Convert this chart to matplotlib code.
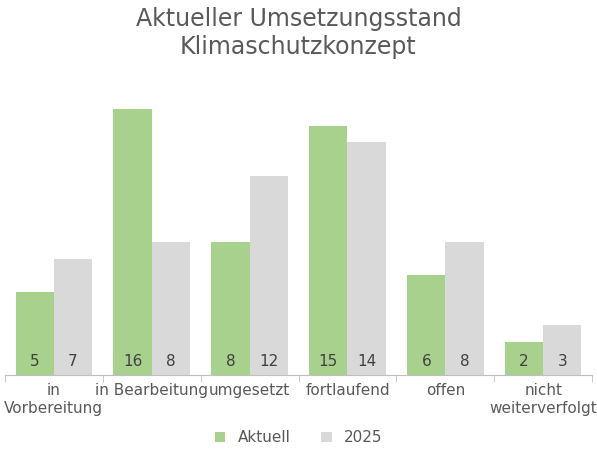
import matplotlib
matplotlib.use('Agg')
import matplotlib.pyplot as plt
import numpy as np

categories = ['in\nVorbereitung', 'in Bearbeitung', 'umgesetzt', 'fortlaufend', 'offen', 'nicht\nweiterverfolgt']
aktuell = [5, 16, 8, 15, 6, 2]
plan_2025 = [7, 8, 12, 14, 8, 3]

GREEN = '#A9D18E'
GREY = '#D9D9D9'
TEXT = '#595959'

fig = plt.figure(figsize=(5.97, 4.59), dpi=100)
ax = fig.add_axes([0.008, 0.183, 0.984, 0.597])

x = np.arange(len(categories))
bw = 0.39
ax.bar(x - bw / 2, aktuell, bw, color=GREEN, label='Aktuell')
ax.bar(x + bw / 2, plan_2025, bw, color=GREY, label='2025')

for xi, a, b in zip(x, aktuell, plan_2025):
    ax.text(xi - bw / 2, 0.8, str(a), ha='center', va='center', fontsize=11, color='#404040')
    ax.text(xi + bw / 2, 0.8, str(b), ha='center', va='center', fontsize=11, color='#404040')

ax.set_xlim(-0.5, len(categories) - 0.5)
ax.set_ylim(0, 16.5)
ax.set_yticks([])
ax.set_xticks(x)
ax.set_xticklabels(categories, fontsize=11, color=TEXT, va='top')
ax.tick_params(axis='x', length=0, pad=6)
ax.set_xticks(np.arange(len(categories) + 1) - 0.5, minor=True)
ax.tick_params(axis='x', which='minor', length=5, color='#BFBFBF')
for s in ['top', 'right', 'left']:
    ax.spines[s].set_visible(False)
ax.spines['bottom'].set_color('#BFBFBF')

fig.suptitle('Aktueller Umsetzungsstand\nKlimaschutzkonzept', fontsize=17, color=TEXT, y=0.985)
fig.legend(loc='lower center', ncol=2, frameon=False, fontsize=11, labelcolor=TEXT,
           handlelength=0.7, handleheight=0.7, bbox_to_anchor=(0.5, 0.0))

fig.savefig('out.png', dpi=100)
